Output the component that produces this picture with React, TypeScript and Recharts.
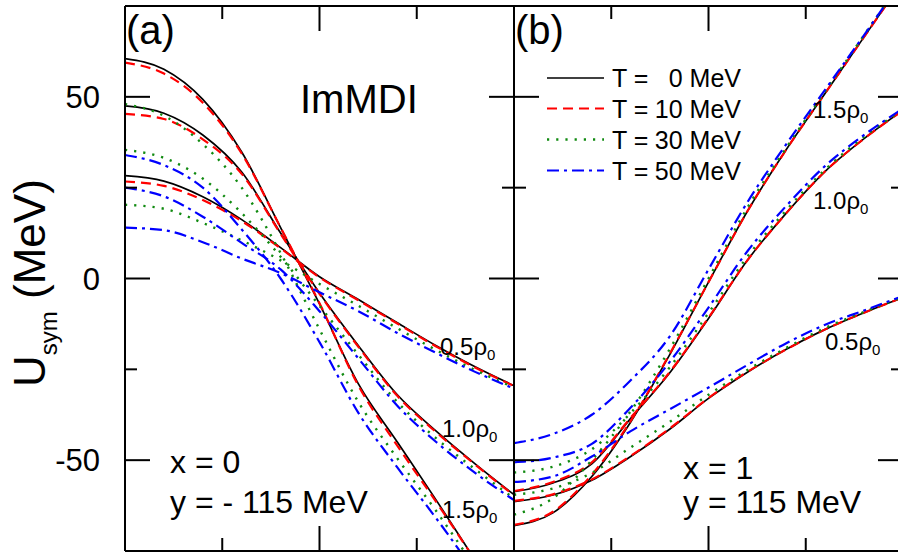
import { LineChart, Line, XAxis, YAxis } from 'recharts'

// momentum grid shared by every curve
const P = [0, 100, 200, 300, 400, 500, 600, 700, 800, 900, 1000]

// panel (a): x = 0, y = -115 MeV
const a0_15 = [60.5, 57.6, 49.3, 34.8, 14, -7, -29, -45, -61, -77.5, -94]
const a0_10 = [47.5, 45.5, 39.5, 29.3, 12.5, -4, -18.5, -32, -42, -51, -59.5]
const a0_05 = [28.3, 26.8, 22.5, 16.2, 8.5, 0.5, -5.8, -12.2, -18.5, -24.3, -29.5]
const a10_15 = [59.4, 56.4, 48.4, 34.4, 14, -6.8, -29.5, -46, -61.5, -77.5, -93.5]
const a10_10 = [45.3, 43.9, 38.3, 28.8, 12.3, -4.2, -18.8, -32.3, -42.3, -51.2, -59.7]
const a10_05 = [26.7, 25.5, 21.6, 15.8, 8.3, 0.3, -6, -12.4, -18.7, -24.5, -29.6]
const a30_15 = [48, 44.8, 37, 25, 7, -14, -34, -49.5, -64, -79.5, -95.5]
const a30_10 = [35.4, 33.2, 27.5, 18, 6, -7.5, -21, -34, -44, -52.5, -60.5]
const a30_05 = [20.3, 19.2, 15.3, 10.5, 5, -1.5, -7.5, -13.7, -19.7, -25.2, -30]
const a50_15 = [34, 31.2, 25, 13.5, 0, -17.5, -37, -52, -66, -81, -97]
const a50_10 = [25, 22.6, 17, 9.8, 2.5, -9, -22, -35, -45, -53.5, -61]
const a50_05 = [14, 13.3, 10, 5.5, 1.5, -3.8, -9, -15, -20.5, -25.7, -30.3]

// panel (b): x = 1, y = 115 MeV
const b0_15 = [-68, -64.5, -54.5, -39.5, -21, -1, 18.5, 35.5, 51, 66.5, 82]
const b0_10 = [-58.7, -56.3, -51, -38.5, -26, -11, 5, 18, 29.5, 38.5, 46.3]
const b0_05 = [-61.4, -59.6, -55.5, -49, -41.5, -33, -25.8, -19.5, -14, -9.4, -5.2]
const b10_15 = [-67.8, -64.2, -54, -39.2, -20.8, -1, 18.5, 35.5, 51, 66.5, 82]
const b10_10 = [-58.5, -56, -50.6, -38.3, -25.8, -10.8, 5, 18, 29.5, 38.5, 46.3]
const b10_05 = [-61.2, -59.4, -55.3, -48.8, -41.3, -32.9, -25.7, -19.5, -14, -9.4, -5.2]
const b30_15 = [-65, -60.5, -50, -36.5, -19.5, 0, 19.5, 36, 51.5, 67, 82.5]
const b30_10 = [-53.4, -51.8, -47, -37, -24.5, -9.5, 6, 18.8, 30, 39, 46.5]
const b30_05 = [-59.5, -57.8, -53.5, -46.5, -39.5, -32, -25.2, -19.1, -13.6, -9.2, -5]
const b50_15 = [-45.3, -42.8, -37.5, -28, -16, 2.5, 21, 37, 52, 67, 82.5]
const b50_10 = [-50.6, -49.3, -45.5, -35.5, -23, -8, 7.5, 20, 31, 39.5, 46.8]
const b50_05 = [-56, -54.5, -49, -42, -36, -30, -23.8, -17.8, -12.7, -8.8, -4.8]

const X_TICKS = [0, 250, 500, 750, 1000]
const Y_TICKS = [-75, -50, -25, 0, 25, 50, 75]
const TEMPS = ['0', '10', '30', '50']
const RHOS = ['15', '10', '05']

const rows = (cols: Record<string, number[]>) =>
  P.map((p, i) => {
    const r: Record<string, number> = { p }
    for (const k in cols) r[k] = cols[k][i]
    return r
  })

const dataA = rows({
  t0_15: a0_15, t0_10: a0_10, t0_05: a0_05,
  t10_15: a10_15, t10_10: a10_10, t10_05: a10_05,
  t30_15: a30_15, t30_10: a30_10, t30_05: a30_05,
  t50_15: a50_15, t50_10: a50_10, t50_05: a50_05,
})
const dataB = rows({
  t0_15: b0_15, t0_10: b0_10, t0_05: b0_05,
  t10_15: b10_15, t10_10: b10_10, t10_05: b10_05,
  t30_15: b30_15, t30_10: b30_10, t30_05: b30_05,
  t50_15: b50_15, t50_10: b50_10, t50_05: b50_05,
})

const STYLE: Record<string, { stroke: string; dash?: string; width: number }> = {
  '0': { stroke: '#000000', width: 1.7 },
  '10': { stroke: '#ff0000', dash: '10 6', width: 2.2 },
  '30': { stroke: '#108a10', dash: '2.2 7', width: 2.4 },
  '50': { stroke: '#0000ff', dash: '12 5 3 5', width: 2.2 },
}

const FONT = '"Liberation Sans", Arial, sans-serif'
const W = 920
const H = 553

function YTick(props: any) {
  const { x, y, payload, dir, labels } = props
  const v = payload.value
  const major = v % 50 === 0
  const len = major ? 25 : 12
  return (
    <g>
      <line x1={x} y1={y} x2={x + dir * len} y2={y} stroke="#000" strokeWidth={2} />
      {labels && major && Math.abs(v) < 75 && (
        <text x={x - 25} y={y + 11} textAnchor="end" fontSize={31} fontFamily={FONT} fill="#000">
          {v}
        </text>
      )}
    </g>
  )
}

function XTick(props: any) {
  const { x, y, payload, dir } = props
  const len = payload.value === 500 ? 25 : 13
  return <line x1={x} y1={y} x2={x} y2={y + dir * len} stroke="#000" strokeWidth={2} />
}

const AXIS_LINE = { stroke: '#000', strokeWidth: 2 }

function Panel({ data, left, right, labels }: { data: any[]; left: number; right: number; labels: boolean }) {
  return (
    <LineChart
      width={W}
      height={H}
      data={data}
      margin={{ top: 5, right: right - 1, bottom: 1, left: left - 1 }}
      style={{ position: 'absolute', left: 0, top: 0 }}
    >
      <XAxis xAxisId="b" dataKey="p" type="number" domain={[0, 1000]} ticks={X_TICKS} interval={0}
        allowDataOverflow height={1} tickSize={0} tickMargin={0} tickLine={false}
        axisLine={AXIS_LINE} tick={(p: any) => <XTick {...p} dir={-1} />} />
      <XAxis xAxisId="t" orientation="top" dataKey="p" type="number" domain={[0, 1000]} ticks={X_TICKS} interval={0}
        allowDataOverflow height={1} tickSize={0} tickMargin={0} tickLine={false}
        axisLine={AXIS_LINE} tick={(p: any) => <XTick {...p} dir={1} />} />
      <YAxis yAxisId="l" type="number" domain={[-75, 75]} ticks={Y_TICKS} interval={0} allowDataOverflow
        width={1} tickSize={0} tickMargin={0} tickLine={false}
        axisLine={AXIS_LINE} tick={(p: any) => <YTick {...p} dir={1} labels={labels} />} />
      <YAxis yAxisId="r" orientation="right" type="number" domain={[-75, 75]} ticks={Y_TICKS} interval={0} allowDataOverflow
        width={1} tickSize={0} tickMargin={0} tickLine={false}
        axisLine={AXIS_LINE} tick={(p: any) => <YTick {...p} dir={-1} labels={false} />} />
      {TEMPS.flatMap((t) =>
        RHOS.map((r) => (
          <Line
            key={`t${t}_${r}`}
            xAxisId="b"
            yAxisId="l"
            type="monotone"
            dataKey={`t${t}_${r}`}
            stroke={STYLE[t].stroke}
            strokeWidth={STYLE[t].width}
            strokeDasharray={STYLE[t].dash}
            dot={false}
            activeDot={false}
            isAnimationActive={false}
          />
        )),
      )}
    </LineChart>
  )
}

function Rho({ x, y, n }: { x: number; y: number; n: string }) {
  return (
    <text x={x} y={y} fontSize={24} fontFamily={FONT} fill="#000">
      {n}ρ<tspan fontSize={15} dy={5}>0</tspan>
    </text>
  )
}

const LEGEND = [
  { t: '0', label: '0 MeV', y: 87 },
  { t: '10', label: '10 MeV', y: 117.5 },
  { t: '30', label: '30 MeV', y: 148.5 },
  { t: '50', label: '50 MeV', y: 179.5 },
]

function Overlay() {
  return (
    <svg width={898} height={553} style={{ position: 'absolute', left: 0, top: 0 }}>
      <text transform="translate(45,387) rotate(-90)" fontFamily={FONT} fill="#000" fontSize={44}>
        U<tspan fontSize={24} dy={12}>sym</tspan><tspan dy={-12}> (MeV)</tspan>
      </text>
      <text x={126} y={44} fontSize={40} fontFamily={FONT}>(a)</text>
      <text x={515} y={44} fontSize={40} fontFamily={FONT}>(b)</text>
      <text x={300} y={113} fontSize={40} fontFamily={FONT}>ImMDI</text>
      <text x={170} y={473} fontSize={32} fontFamily={FONT}>x = 0</text>
      <text x={170} y={513} fontSize={32} fontFamily={FONT}>y = - 115 MeV</text>
      <text x={683} y={479} fontSize={32} fontFamily={FONT}>x = 1</text>
      <text x={683} y={513} fontSize={32} fontFamily={FONT}>y = 115 MeV</text>
      <Rho x={440} y={355} n="0.5" />
      <Rho x={442} y={437} n="1.0" />
      <Rho x={442} y={518} n="1.5" />
      <Rho x={813} y={118} n="1.5" />
      <Rho x={813} y={209} n="1.0" />
      <Rho x={825} y={350} n="0.5" />
      {LEGEND.map((l) => (
        <g key={l.t}>
          <line x1={547} x2={604} y1={l.y - 9} y2={l.y - 9} stroke={STYLE[l.t].stroke}
            strokeWidth={STYLE[l.t].width} strokeDasharray={STYLE[l.t].dash} />
          <text x={612} y={l.y} fontSize={25} fontFamily={FONT}>T =</text>
          <text x={741} y={l.y} fontSize={25} fontFamily={FONT} textAnchor="end">{l.label}</text>
        </g>
      ))}
    </svg>
  )
}

export default function App() {
  return (
    <div style={{ position: 'fixed', left: 0, top: 0, width: 898, height: 553, overflow: 'hidden', background: '#fff' }}>
      <Panel data={dataA} left={125} right={W - 514} labels />
      <Panel data={dataB} left={514} right={W - 903} labels={false} />
      <Overlay />
    </div>
  )
}
